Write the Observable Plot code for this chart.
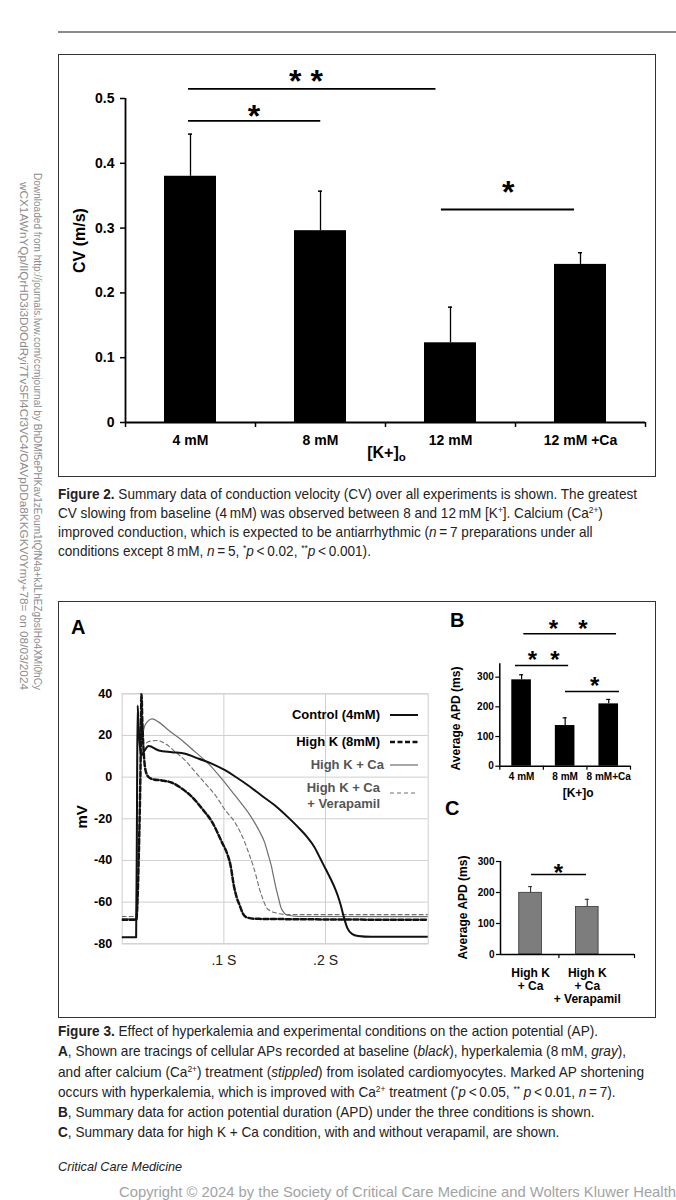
<!DOCTYPE html>
<html><head><meta charset="utf-8">
<script src="https://cdn.jsdelivr.net/npm/d3@7"></script>
<script src="https://cdn.jsdelivr.net/npm/@observablehq/plot@0.6"></script>
<style>
html,body{margin:0;padding:0;background:#fff}
body{width:676px;height:1200px;position:relative;overflow:hidden;font-family:"Liberation Sans",Arial,Helvetica,sans-serif;color:#222}
.abs{position:absolute}
.box{position:absolute;border:1.5px solid #333;box-sizing:border-box}
.cap{position:absolute;left:58px;font-family:"Liberation Sans Narrow","Arial Narrow","Liberation Sans",Arial,sans-serif;font-size:15px;color:#222;transform-origin:0 0;white-space:nowrap}
.cap div{height:19px;line-height:19px}
#cap3 div{height:20.3px;line-height:20.3px}
sup{font-size:0.62em;vertical-align:0.55em;line-height:0}
.side{position:absolute;font-size:10px;color:#8c8c8c;white-space:nowrap;transform-origin:0 0;line-height:12px}
.letter{position:absolute;font-weight:bold;font-size:20px;line-height:20px;color:#000}
.lg{position:absolute;right:296px;font-weight:bold;font-size:13px;line-height:15.6px;text-align:right;white-space:nowrap}
</style></head><body>

<div class="abs" style="left:58px;top:31px;width:618px;height:1.5px;background:#8a8a8a"></div>

<div id="side1" class="side" style="left:43px;top:173px">Downloaded from http://journals.lww.com/ccmjournal by BhDMf5ePHKav1zEoum1tQfN4a+kJLhEZgbsIHo4XMi0hCy</div>
<div id="side2" class="side" style="left:29px;top:182px">wCX1AWnYQp/IlQrHD3i3D0OdRyi7TvSFl4Cf3VC4/OAVpDDa8KKGKV0Ymy+78= on 08/03/2024</div>

<div class="box" style="left:58px;top:54px;width:598px;height:423px"></div>
<div id="fig2" class="abs" style="left:58px;top:54px"></div>

<div id="cap2" class="cap" style="top:483.5px">
<div><span><b>Figure 2.</b> Summary data of conduction velocity (CV) over all experiments is shown. The greatest</span></div>
<div><span>CV slowing from baseline (4&#8201;mM) was observed between 8 and 12&#8201;mM [K<sup>+</sup>]. Calcium (Ca<sup>2+</sup>)</span></div>
<div><span>improved conduction, which is expected to be antiarrhythmic (<i>n</i>&#8201;=&#8201;7 preparations under all</span></div>
<div><span>conditions except 8&#8201;mM, <i>n</i>&#8201;=&#8201;5, <sup>*</sup><i>p</i>&#8201;&lt;&#8201;0.02, <sup>**</sup><i>p</i>&#8201;&lt;&#8201;0.001).</span></div>
</div>

<div class="box" style="left:58px;top:601px;width:598px;height:417px"></div>
<div class="letter" style="left:71px;top:617px">A</div>
<div class="letter" style="left:450px;top:610px">B</div>
<div class="letter" style="left:445px;top:798px">C</div>
<div id="figA" class="abs" style="left:60px;top:680px"></div>
<div id="legA"></div>
<div id="figB" class="abs" style="left:440px;top:605px"></div>
<div id="figC" class="abs" style="left:440px;top:845px"></div>

<div id="cap3" class="cap" style="top:1021px">
<div><span><b>Figure 3.</b> Effect of hyperkalemia and experimental conditions on the action potential (AP).</span></div>
<div><span><b>A</b>, Shown are tracings of cellular APs recorded at baseline (<i>black</i>), hyperkalemia (8&#8201;mM, <i>gray</i>),</span></div>
<div><span>and after calcium (Ca<sup>2+</sup>) treatment (<i>stippled</i>) from isolated cardiomyocytes. Marked AP shortening</span></div>
<div><span>occurs with hyperkalemia, which is improved with Ca<sup>2+</sup> treatment (<sup>*</sup><i>p</i>&#8201;&lt;&#8201;0.05, <sup>**</sup> <i>p</i>&#8201;&lt;&#8201;0.01, <i>n</i>&#8201;=&#8201;7).</span></div>
<div><span><b>B</b>, Summary data for action potential duration (APD) under the three conditions is shown.</span></div>
<div><span><b>C</b>, Summary data for high K + Ca condition, with and without verapamil, are shown.</span></div>
</div>

<div class="abs" style="left:58px;top:1159px;font-size:12.7px;line-height:16px;font-style:italic;color:#222">Critical Care Medicine</div>
<div id="copy" class="abs" style="left:119px;top:1183px;font-size:15px;line-height:18px;color:#a3a3a3;white-space:nowrap;transform-origin:0 0">Copyright © 2024 by the Society of Critical Care Medicine and Wolters Kluwer Health</div>

<script>
// ---------------- Figure 2 data ----------------
const cvCategories = ["4 mM", "8 mM", "12 mM", "12 mM +Ca"];
const cvMeans = [0.38, 0.296, 0.123, 0.244];
const cvErrTop = [0.445, 0.357, 0.178, 0.262];
const cvYTicks = [0, 0.1, 0.2, 0.3, 0.4, 0.5];
const cvSigX1 = [-0.015, -0.015, 1.93];
const cvSigX2 = [1.888, 1.002, 2.954];
const cvSigY = [0.515, 0.4656, 0.3287];
const cvStarX = [0.888, 0.489, 2.444];
const cvStarY = [0.5386, 0.4846, 0.3673];
const cvStarText = ["* *", "*", "*"];
const cvXLabel = "[K+]o";
const cvYLabel = "CV (m/s)";

// ---------------- Figure 3A data (time in s, membrane potential in mV) ----------------
const apNames = ["Control (4mM)", "High K (8mM)", "High K + Ca", "High K + Ca\n+ Verapamil"];
const controlT = [0, 0.0137, 0.0146, 0.0152, 0.0158, 0.0172, 0.0188, 0.021, 0.026, 0.036, 0.049, 0.062, 0.0754, 0.0885, 0.1016, 0.111, 0.124, 0.137, 0.150, 0.163, 0.173, 0.182, 0.189, 0.195, 0.200, 0.205, 0.209, 0.212, 0.215, 0.2176, 0.2215, 0.226, 0.232, 0.245, 0.301];
const controlMV = [-76.8, -76.8, -10, 34.4, 28, 16, 10.5, 12, 14.9, 12.8, 12, 11.2, 8.8, 6.4, 3.2, 0.3, -4, -8.8, -13.5, -19.2, -24, -28.8, -33.5, -39.2, -44, -48.8, -53, -56.8, -61.5, -66.4, -72.5, -75.2, -76.2, -76.6, -76.6];
const highKT = [0, 0.0138, 0.0164, 0.018, 0.019, 0.0197, 0.0203, 0.0216, 0.023, 0.026, 0.031, 0.039, 0.049, 0.059, 0.0689, 0.0787, 0.0885, 0.098, 0.1033, 0.1066, 0.1098, 0.1125, 0.1156, 0.1189, 0.122, 0.130, 0.301];
const highKMV = [-68.5, -68.5, -36, 4, 40, 28, 20, 8.8, 3.2, 0, -1.1, -1.6, -2.7, -5.6, -9.6, -15.2, -21.6, -31.2, -36.8, -42.4, -52, -57.5, -61.6, -65.6, -67.2, -68, -68.5];
const caT = [0, 0.0138, 0.0152, 0.0168, 0.019, 0.0225, 0.0295, 0.036, 0.046, 0.059, 0.072, 0.085, 0.098, 0.111, 0.117, 0.124, 0.130, 0.135, 0.140, 0.1435, 0.1466, 0.149, 0.1515, 0.154, 0.156, 0.159, 0.163, 0.176, 0.301];
const caMV = [-68, -68, 30, 21, 19.5, 25, 28, 26.4, 22.4, 17.6, 12, 6.4, -0.8, -8.8, -12.5, -17, -21.6, -26, -31.2, -37, -42.4, -48, -53.6, -58.5, -62.4, -65, -66.3, -66.9, -67];
const verT = [0, 0.0138, 0.0153, 0.0165, 0.0185, 0.021, 0.026, 0.034, 0.0426, 0.0525, 0.062, 0.072, 0.082, 0.0918, 0.1016, 0.1107, 0.1205, 0.1245, 0.1287, 0.132, 0.135, 0.138, 0.1417, 0.146, 0.150, 0.163, 0.301];
const verMV = [-66.9, -66.9, 25, 20, 16, 15.5, 17.1, 17.6, 16, 12, 8, 2.4, -3.2, -8.8, -16, -21.6, -31.2, -36.5, -42.4, -48, -53.6, -58, -62.4, -64.3, -65, -66, -66];
const apYTicks = [-80, -60, -40, -20, 0, 20, 40];
const apXTicks = [0.1, 0.2];
const apXTickLabels = [".1 S", ".2 S"];
const apXMax = 0.301;

// ---------------- Figure 3B data ----------------
const apdBCategories = ["4 mM", "8 mM", "8 mM+Ca"];
const apdBMeans = [291, 137, 210];
const apdBErrTop = [308, 163, 225];
const apdBYTicks = [0, 100, 200, 300];
const apdBYMax = 345;
const apdBSigX1 = [0.051, -0.14, 1.008];
const apdBSigX2 = [2.18, 1.08, 2.247];
const apdBSigY = [446, 339.4, 251.8];
const apdBStarX = [1.07, 0.507, 1.68];
const apdBStarY = [480, 375.5, 288.8];
const apdBStarText = ["*   *", "*  *", "*"];
const apdXLabel = "[K+]o";
const apdYLabel = "Average APD (ms)";

// ---------------- Figure 3C data ----------------
const apdCCategories = ["High K\n+ Ca", "High K\n+ Ca\n+ Verapamil"];
const apdCMeans = [199, 153];
const apdCErrTop = [219, 178];
const apdCYTicks = [0, 100, 200, 300];
const apdCSigX1 = [0.017];
const apdCSigX2 = [0.987];
const apdCSigY = [258];
const apdCStarX = [0.493];
const apdCStarY = [281.6];
const apdCStarText = ["*"];

const FONT = "'Liberation Sans', Arial, Helvetica, sans-serif";
const baseStyle = {background: "transparent", fontFamily: FONT, fontWeight: "bold", color: "#000", maxWidth: "none", overflow: "visible"};

// ---------- Figure 2 ----------
{
  const idx = cvCategories.map((_, i) => i);
  const sig = cvSigY.map((_, i) => i);
  const bounds = [-0.5, ...idx.map(i => i + 0.5)];
  const W = 598, H = 422, mT = 44, mB = 54;
  const plot = Plot.plot({
    width: W, height: H, marginLeft: 67, marginRight: 11, marginTop: mT, marginBottom: mB,
    x: {domain: [-0.5, cvCategories.length - 0.5], axis: null},
    y: {domain: [0, 0.5], axis: null},
    style: baseStyle,
    marks: [
      Plot.rect(idx, {x1: i => i - 0.2, x2: i => i + 0.2, y1: 0, y2: i => cvMeans[i], fill: "#000"}),
      Plot.ruleX(idx, {x: i => i, y1: i => cvMeans[i], y2: i => cvErrTop[i], stroke: "#000", strokeWidth: 1.3}),
      Plot.ruleY(idx, {y: i => cvErrTop[i], x1: i => i, x2: i => i, insetLeft: -2, insetRight: -2, stroke: "#000", strokeWidth: 1.5}),
      Plot.ruleY([0], {stroke: "#000", strokeWidth: 1.8}),
      Plot.ruleX([-0.5], {y1: 0, y2: 0.5, stroke: "#000", strokeWidth: 1.8}),
      Plot.ruleX(bounds, {x: d => d, insetTop: H - mT - mB, insetBottom: -5, stroke: "#000", strokeWidth: 1.5}),
      Plot.axisY({ticks: cvYTicks, tickFormat: d => d === 0 ? "0" : d.toFixed(1), tickSize: 5, tickPadding: 6, fontSize: 14, fontWeight: "bold", label: null, stroke: "#000", strokeWidth: 1.5}),
      Plot.axisX({ticks: idx, tickFormat: i => cvCategories[i], tickSize: 0, tickPadding: 13, fontSize: 14, fontWeight: "bold", label: null}),
      Plot.text([cvYLabel], {text: d => d, frameAnchor: "left", textAnchor: "middle", rotate: -90, dx: -46, dy: -20, fontSize: 16, fontWeight: "bold"}),
      Plot.text([cvXLabel], {text: d => d, frameAnchor: "bottom", dx: 1, dy: 35, fontSize: 16, fontWeight: "bold"}),
      Plot.ruleY(sig, {y: i => cvSigY[i], x1: i => cvSigX1[i], x2: i => cvSigX2[i], stroke: "#000", strokeWidth: 1.8}),
      Plot.text(sig, {x: i => cvStarX[i], y: i => cvStarY[i], text: i => cvStarText[i], fontSize: 32, fontWeight: "bold", dy: 8})
    ]
  });
  plot.querySelectorAll("text").forEach(t => {
    if (t.textContent === "[K+]o") {
      t.textContent = "[K+]";
      const s = document.createElementNS("http://www.w3.org/2000/svg", "tspan");
      s.textContent = "o"; s.setAttribute("font-size", "0.72em"); s.setAttribute("dy", "0.3em");
      t.appendChild(s);
    }
  });
  document.getElementById("fig2").appendChild(plot);
}

// ---------- Figure 3A ----------
{
  const toRows = (T, V) => T.map((t, i) => ({t, v: V[i]}));
  const styles = [
    {stroke: "#111", strokeWidth: 2, dash: null},
    {stroke: "#111", strokeWidth: 2.5, dash: "5,2.5"},
    {stroke: "#6e6e6e", strokeWidth: 1.2, dash: null},
    {stroke: "#6e6e6e", strokeWidth: 1.1, dash: "4,3"}
  ];
  const series = [toRows(controlT, controlMV), toRows(highKT, highKMV), toRows(caT, caMV), toRows(verT, verMV)];
  const lineMark = k => Plot.line(series[k], {x: "t", y: "v", stroke: styles[k].stroke, strokeWidth: styles[k].strokeWidth, strokeDasharray: styles[k].dash, clip: true, curve: "monotone-x"});
  const plot = Plot.plot({
    width: 372, height: 298, marginLeft: 61.7, marginRight: 4.3, marginTop: 13.3, marginBottom: 34.7,
    x: {domain: [0, apXMax], axis: null},
    y: {domain: [apYTicks[0], apYTicks[apYTicks.length - 1]], axis: null},
    style: baseStyle,
    marks: [
      Plot.ruleY(apYTicks, {stroke: "#cfcfcf", strokeWidth: 1}),
      Plot.ruleX(apXTicks, {stroke: "#cfcfcf", strokeWidth: 1}),
      Plot.frame({stroke: "#cfcfcf", strokeWidth: 1}),
      Plot.axisY({ticks: apYTicks, tickFormat: d => String(d), tickSize: 0, tickPadding: 10, fontSize: 12.5, fontWeight: "bold", label: null}),
      Plot.axisX({ticks: apXTicks, tickFormat: d => apXTickLabels[apXTicks.indexOf(d)], tickSize: 0, tickPadding: 11, fontSize: 14, fontWeight: "normal", fill: "#222", label: null}),
      Plot.text(["mV"], {text: d => d, frameAnchor: "left", textAnchor: "middle", rotate: -90, dx: -40, dy: -2, fontSize: 15, fontWeight: "bold"}),
      lineMark(3), lineMark(2), lineMark(1), lineMark(0)
    ]
  });
  document.getElementById("figA").appendChild(plot);

  // legend (HTML overlay)
  const legTop = [707.2, 733.9, 757.2, 780];
  const legRight = [296, 296, 292, 296];
  const legColor = ["#000", "#000", "#555", "#555"];
  const swatchY = [715, 741.7, 765, 793.3];
  const leg = document.getElementById("legA");
  apNames.forEach((name, k) => {
    const d = document.createElement("div");
    d.className = "lg";
    d.style.top = legTop[k] + "px";
    d.style.right = legRight[k] + "px";
    d.style.color = legColor[k];
    d.innerHTML = name.split("\n").join("<br>");
    leg.appendChild(d);
    const s = document.createElementNS("http://www.w3.org/2000/svg", "svg");
    s.setAttribute("width", 30); s.setAttribute("height", 8);
    s.style.position = "absolute"; s.style.left = "389px"; s.style.top = (swatchY[k] - 4) + "px";
    const l = document.createElementNS("http://www.w3.org/2000/svg", "line");
    l.setAttribute("x1", 1); l.setAttribute("x2", 29); l.setAttribute("y1", 4); l.setAttribute("y2", 4);
    l.setAttribute("stroke", styles[k].stroke); l.setAttribute("stroke-width", styles[k].strokeWidth);
    if (styles[k].dash) l.setAttribute("stroke-dasharray", styles[k].dash);
    s.appendChild(l);
    leg.appendChild(s);
  });
}

// ---------- Figure 3B ----------
{
  const idx = apdBCategories.map((_, i) => i);
  const sig = apdBSigY.map((_, i) => i);
  const bounds = [-0.5, ...idx.map(i => i + 0.5)];
  const W = 210, H = 200, mT = 58.3, mB = 39.3;
  const plot = Plot.plot({
    width: W, height: H, marginLeft: 59.3, marginRight: 20, marginTop: mT, marginBottom: mB,
    x: {domain: [-0.5, apdBCategories.length - 0.5], axis: null},
    y: {domain: [0, apdBYMax], axis: null},
    style: baseStyle,
    marks: [
      Plot.rect(idx, {x1: i => i - 0.225, x2: i => i + 0.225, y1: 0, y2: i => apdBMeans[i], fill: "#000"}),
      Plot.ruleX(idx, {x: i => i, y1: i => apdBMeans[i], y2: i => apdBErrTop[i], stroke: "#000", strokeWidth: 1.2}),
      Plot.ruleY(idx, {y: i => apdBErrTop[i], x1: i => i, x2: i => i, insetLeft: -2, insetRight: -2, stroke: "#000", strokeWidth: 1.2}),
      Plot.ruleY([0], {stroke: "#000", strokeWidth: 1.5}),
      Plot.ruleX([-0.5], {y1: 0, y2: apdBYMax, stroke: "#000", strokeWidth: 1.5}),
      Plot.ruleX(bounds, {x: d => d, insetTop: H - mT - mB, insetBottom: -4, stroke: "#000", strokeWidth: 1.2}),
      Plot.axisY({ticks: apdBYTicks, tickSize: 4, tickPadding: 2, fontSize: 10, fontWeight: "bold", label: null, stroke: "#000", strokeWidth: 1.2}),
      Plot.axisX({ticks: idx, tickFormat: i => apdBCategories[i], tickSize: 0, tickPadding: 7, fontSize: 10, fontWeight: "bold", label: null}),
      Plot.text([apdXLabel], {text: d => d, frameAnchor: "bottom", dx: 13, dy: 31, fontSize: 12, fontWeight: "bold"}),
      Plot.text([apdYLabel], {text: d => d, frameAnchor: "left", textAnchor: "middle", rotate: -90, dx: -44, dy: 3.5, fontSize: 12, fontWeight: "bold"}),
      Plot.ruleY(sig, {y: i => apdBSigY[i], x1: i => apdBSigX1[i], x2: i => apdBSigX2[i], stroke: "#000", strokeWidth: 1.5}),
      Plot.text(sig, {x: i => apdBStarX[i], y: i => apdBStarY[i], text: i => apdBStarText[i], fontSize: 24, fontWeight: "bold", dy: 6})
    ]
  });
  document.getElementById("figB").appendChild(plot);
}

// ---------- Figure 3C ----------
{
  const idx = apdCCategories.map((_, i) => i);
  const sig = apdCSigY.map((_, i) => i);
  const xDom = [-0.53, 1.833];
  const W = 210, H = 165, mT = 16, mB = 56;
  const plot = Plot.plot({
    width: W, height: H, marginLeft: 60, marginRight: 16, marginTop: mT, marginBottom: mB,
    x: {domain: xDom, axis: null},
    y: {domain: [0, 300], axis: null},
    style: baseStyle,
    marks: [
      Plot.rect(idx, {x1: i => i - 0.2, x2: i => i + 0.2, y1: 0, y2: i => apdCMeans[i], fill: "#7d7d7d", stroke: "#333", strokeWidth: 0.8}),
      Plot.ruleX(idx, {x: i => i, y1: i => apdCMeans[i], y2: i => apdCErrTop[i], stroke: "#333", strokeWidth: 1.1}),
      Plot.ruleY(idx, {y: i => apdCErrTop[i], x1: i => i, x2: i => i, insetLeft: -2, insetRight: -2, stroke: "#333", strokeWidth: 1.1}),
      Plot.ruleY([0], {stroke: "#000", strokeWidth: 1.5}),
      Plot.ruleX([xDom[0]], {y1: 0, y2: 300, stroke: "#000", strokeWidth: 1.5}),
      Plot.ruleX([0.5, xDom[1]], {x: d => d, insetTop: H - mT - mB, insetBottom: -4, stroke: "#000", strokeWidth: 1.2}),
      Plot.axisY({ticks: apdCYTicks, tickSize: 4, tickPadding: 2, fontSize: 10, fontWeight: "bold", label: null, stroke: "#000", strokeWidth: 1.2}),
      Plot.text(idx, {x: i => i, y: 0, text: i => apdCCategories[i], lineAnchor: "top", dy: 13, fontSize: 12, lineHeight: 1.08, fontWeight: "bold"}),
      Plot.text([apdYLabel], {text: d => d, frameAnchor: "left", textAnchor: "middle", rotate: -90, dx: -37, dy: -0.5, fontSize: 12, fontWeight: "bold"}),
      Plot.ruleY(sig, {y: i => apdCSigY[i], x1: i => apdCSigX1[i], x2: i => apdCSigX2[i], stroke: "#000", strokeWidth: 1.5}),
      Plot.text(sig, {x: i => apdCStarX[i], y: i => apdCStarY[i], text: i => apdCStarText[i], fontSize: 24, fontWeight: "bold", dy: 6})
    ]
  });
  document.getElementById("figC").appendChild(plot);
}

// ---------- fit text widths to the page ----------
function fitLine(el, target, prefix) {
  el.style.transform = "none";
  const w = el.getBoundingClientRect().width;
  el.style.transform = (prefix || "") + " scaleX(" + (target / w) + ")";
}
function fitCaption(id, lineIndex, target) {
  const c = document.getElementById(id);
  const span = c.querySelectorAll("span")[lineIndex];
  c.style.transform = "none";
  const w = span.getBoundingClientRect().width;
  c.style.transform = "scaleX(" + (target / w) + ")";
}
fitCaption("cap2", 0, 579);
fitCaption("cap3", 2, 586);
fitLine(document.getElementById("side1"), 517, "rotate(90deg)");
fitLine(document.getElementById("side2"), 508, "rotate(90deg)");
fitLine(document.getElementById("copy"), 557, "");
</script>
</body></html>
